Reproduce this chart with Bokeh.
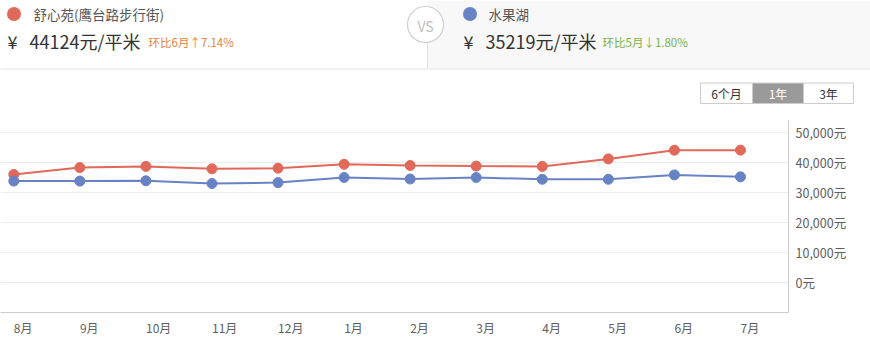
from bokeh.plotting import figure
from bokeh.models import Range1d, FixedTicker
from bokeh.core.properties import value
from bokeh.embed import file_html
from bokeh.resources import INLINE

# ---------------- data ----------------
months = ["8月", "9月", "10月", "11月", "12月", "1月", "2月", "3月", "4月", "5月", "6月", "7月"]
series_a_name = "舒心苑(鹰台路步行街)"
series_b_name = "水果湖"
series_a = [36000, 38300, 38700, 37900, 38100, 39400, 39000, 38800, 38700, 41200, 44100, 44124]
series_b = [33800, 33800, 33900, 33000, 33300, 35000, 34500, 35000, 34400, 34400, 35870, 35219]
currency = "¥"
price_a = "44124元/平米"
price_b = "35219元/平米"
change_a = "环比6月↑7.14%"
change_b = "环比5月↓1.80%"
y_ticks = [0, 10000, 20000, 30000, 40000, 50000]
y_tick_labels = ["0元", "10,000元", "20,000元", "30,000元", "40,000元", "50,000元"]
buttons = ["6个月", "1年", "3年"]

RED = "#e0695a"
BLUE = "#6883c5"
FONT = value("Noto Sans CJK SC")

# ---------------- header ----------------
W = 870
HH = 115
hdr = figure(width=W, height=HH, x_range=Range1d(0, W), y_range=Range1d(HH, 0),
             output_backend="svg", toolbar_location=None,
             min_border=0, min_border_left=0, min_border_right=0,
             min_border_top=0, min_border_bottom=0)
hdr.axis.visible = False
hdr.grid.visible = False
hdr.outline_line_color = None
hdr.background_fill_color = "white"
hdr.border_fill_color = "white"

hdr.quad(left=[427], right=[W], top=[0], bottom=[68], fill_color="#f8f8f8", line_color=None)
hdr.segment(x0=[0], y0=[68.5], x1=[W], y1=[68.5], line_color="#e3e3e3", line_width=1)
hdr.segment(x0=[427], y0=[42], x1=[427], y1=[68], line_color="#e3e3e3", line_width=1)
hdr.scatter(x=[425], y=[24], size=36, marker="circle", fill_color="white",
            line_color="#d0d0d0", line_width=1.2)
hdr.text(x=[425], y=[25], text=["VS"], text_font=FONT, text_font_size="14px",
         text_color="#c0c0c0", text_align="center", text_baseline="middle")

hdr.scatter(x=[13.5, 469.5], y=[13.5, 13.5], size=14, marker="circle",
            fill_color=[RED, BLUE], line_color=None)
hdr.text(x=[33, 488], y=[13.5, 13.5], text=[series_a_name, series_b_name], text_font=FONT,
         text_font_size="13.5px", text_color="#555555", text_baseline="middle")
hdr.text(x=[7, 463], y=[40, 40], text=[currency, currency], text_font=FONT,
         text_font_size="18px", text_color="#333333", text_baseline="middle")
hdr.text(x=[29, 485], y=[40, 40], text=[price_a, price_b], text_font=FONT,
         text_font_size="18px", text_color="#333333", text_baseline="middle")
hdr.text(x=[148], y=[41], text=[change_a], text_font=FONT, text_font_size="11.5px",
         text_color="#e8843f", text_baseline="middle")
hdr.text(x=[602], y=[41], text=[change_b], text_font=FONT, text_font_size="11.5px",
         text_color="#78b34a", text_baseline="middle")

bx = [700, 752, 803]
bw = [52, 51, 50]
hdr.quad(left=bx, right=[b + w for b, w in zip(bx, bw)], top=[82.5] * 3, bottom=[103] * 3,
         fill_color=["white", "#9a9a9a", "white"], line_color="#cccccc", line_width=1)
hdr.text(x=[b + w / 2 for b, w in zip(bx, bw)], y=[93] * 3, text=buttons, text_font=FONT,
         text_font_size="12px", text_color=["#333333", "white", "#333333"],
         text_align="center", text_baseline="middle")

# ---------------- chart ----------------
CH = 351 - HH
step = 66.06
x0 = 13.3
xs = list(range(len(months)))
p = figure(width=W, height=CH,
           x_range=Range1d(-x0 / step, (788 - x0) / step),
           y_range=Range1d(-10000, 54000),
           y_axis_location="right",
           output_backend="svg", toolbar_location=None,
           min_border_left=0, min_border_right=82, min_border_top=5, min_border_bottom=39)
p.outline_line_color = None
p.background_fill_color = "white"
p.border_fill_color = "white"

p.xgrid.visible = False
p.ygrid.grid_line_color = "#ececec"
p.ygrid.grid_line_width = 1
p.ygrid.ticker = FixedTicker(ticks=y_ticks)

p.yaxis.ticker = FixedTicker(ticks=y_ticks)
p.yaxis.major_label_overrides = {t: l for t, l in zip(y_ticks, y_tick_labels)}
p.yaxis.axis_line_color = "#cccccc"
p.yaxis.major_tick_line_color = None
p.yaxis.minor_tick_line_color = None
p.yaxis.major_tick_out = 0
p.yaxis.major_label_standoff = 7
p.yaxis.major_label_text_font = "Noto Sans CJK SC"
p.yaxis.major_label_text_font_size = "12.5px"
p.yaxis.major_label_text_color = "#606060"

# month labels start at their point (left-aligned look): shift each tick by half the label width
def label_width(s, fs=12):
    return sum(fs if ord(c) > 255 else 0.56 * fs for c in s)

x_label_ticks = [i + label_width(m) / 2 / step for i, m in zip(xs, months)]
p.xaxis.ticker = FixedTicker(ticks=x_label_ticks)
p.xaxis.major_label_overrides = {t: m for t, m in zip(x_label_ticks, months)}
p.xaxis.axis_line_color = "#cccccc"
p.xaxis.major_tick_line_color = None
p.xaxis.minor_tick_line_color = None
p.xaxis.major_tick_out = 0
p.xaxis.major_label_standoff = 6
p.xaxis.major_label_text_font = "Noto Sans CJK SC"
p.xaxis.major_label_text_font_size = "12px"
p.xaxis.major_label_text_color = "#606060"

p.line(xs, series_a, line_color=RED, line_width=2)
p.scatter(xs, series_a, size=10, marker="circle", fill_color=RED, line_color=RED)
p.line(xs, series_b, line_color=BLUE, line_width=2)
p.scatter(xs, series_b, size=10, marker="circle", fill_color=BLUE, line_color=BLUE)

open("out.html", "w").write(file_html([hdr, p], INLINE))
